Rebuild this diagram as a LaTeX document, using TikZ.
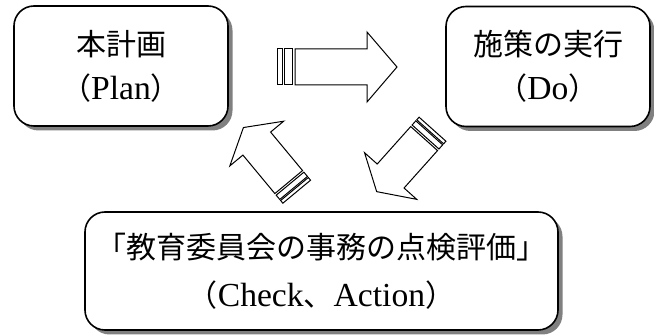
\documentclass[tikz,border=0pt]{standalone}
\usepackage{fontspec}
\setmainfont[Scale=1.12]{Liberation Serif}
\newfontfamily\cjk{Noto Sans CJK JP}
\usetikzlibrary{shadows}
\tikzset{
  stagebox/.style={draw=black, line width=1.6pt, fill=white, rounded corners=20pt,
    align=center, inner sep=0pt,
    general shadow={fill=black!50, shadow xshift=4.5pt, shadow yshift=-4.5pt}},
  blockarrow/.style={draw=black, line width=1pt, fill=white, line join=miter},
}
\newcommand\stripedarrow[4]{%
  \begin{scope}[shift={(#1,#2)}, rotate=#3, xscale=#4]
    \draw[blockarrow] (0,-18) rectangle (5,18);
    \draw[blockarrow] (7,-18) rectangle (15,18);
    \draw[blockarrow] (18,-18) -- (90,-18) -- (90,-35) -- (120,0) -- (90,35) -- (90,18) -- (18,18) -- cycle;
  \end{scope}}
\begin{document}
\begin{tikzpicture}[x=1pt, y=-1pt]
  \useasboundingbox (0,0) rectangle (654,336);
  \node[stagebox, minimum width=214pt, minimum height=120pt,
        font=\fontsize{30}{44}\selectfont] (plan) at (121,66)
    {{\cjk 本計画}\\{\cjk （}Plan{\cjk ）}};
  \node[stagebox, minimum width=204pt, minimum height=120pt,
        font=\fontsize{30}{44}\selectfont] (do) at (548,66.5)
    {{\cjk 施策の実行}\\{\cjk （}Do{\cjk ）}};
  \node[stagebox, minimum width=473pt, minimum height=118pt,
        font=\fontsize{30}{48}\selectfont] (check) at (321.5,271)
    {{\cjk 「教育委員会の事務の点検評価」}\\{\cjk （}Check{\cjk 、}Action{\cjk ）}};
  \stripedarrow{277}{67}{0}{1}
  \stripedarrow{432.5}{129.2}{228.2}{0.698}
  \stripedarrow{296.7}{191.7}{129.7}{0.695}
\end{tikzpicture}
\end{document}
